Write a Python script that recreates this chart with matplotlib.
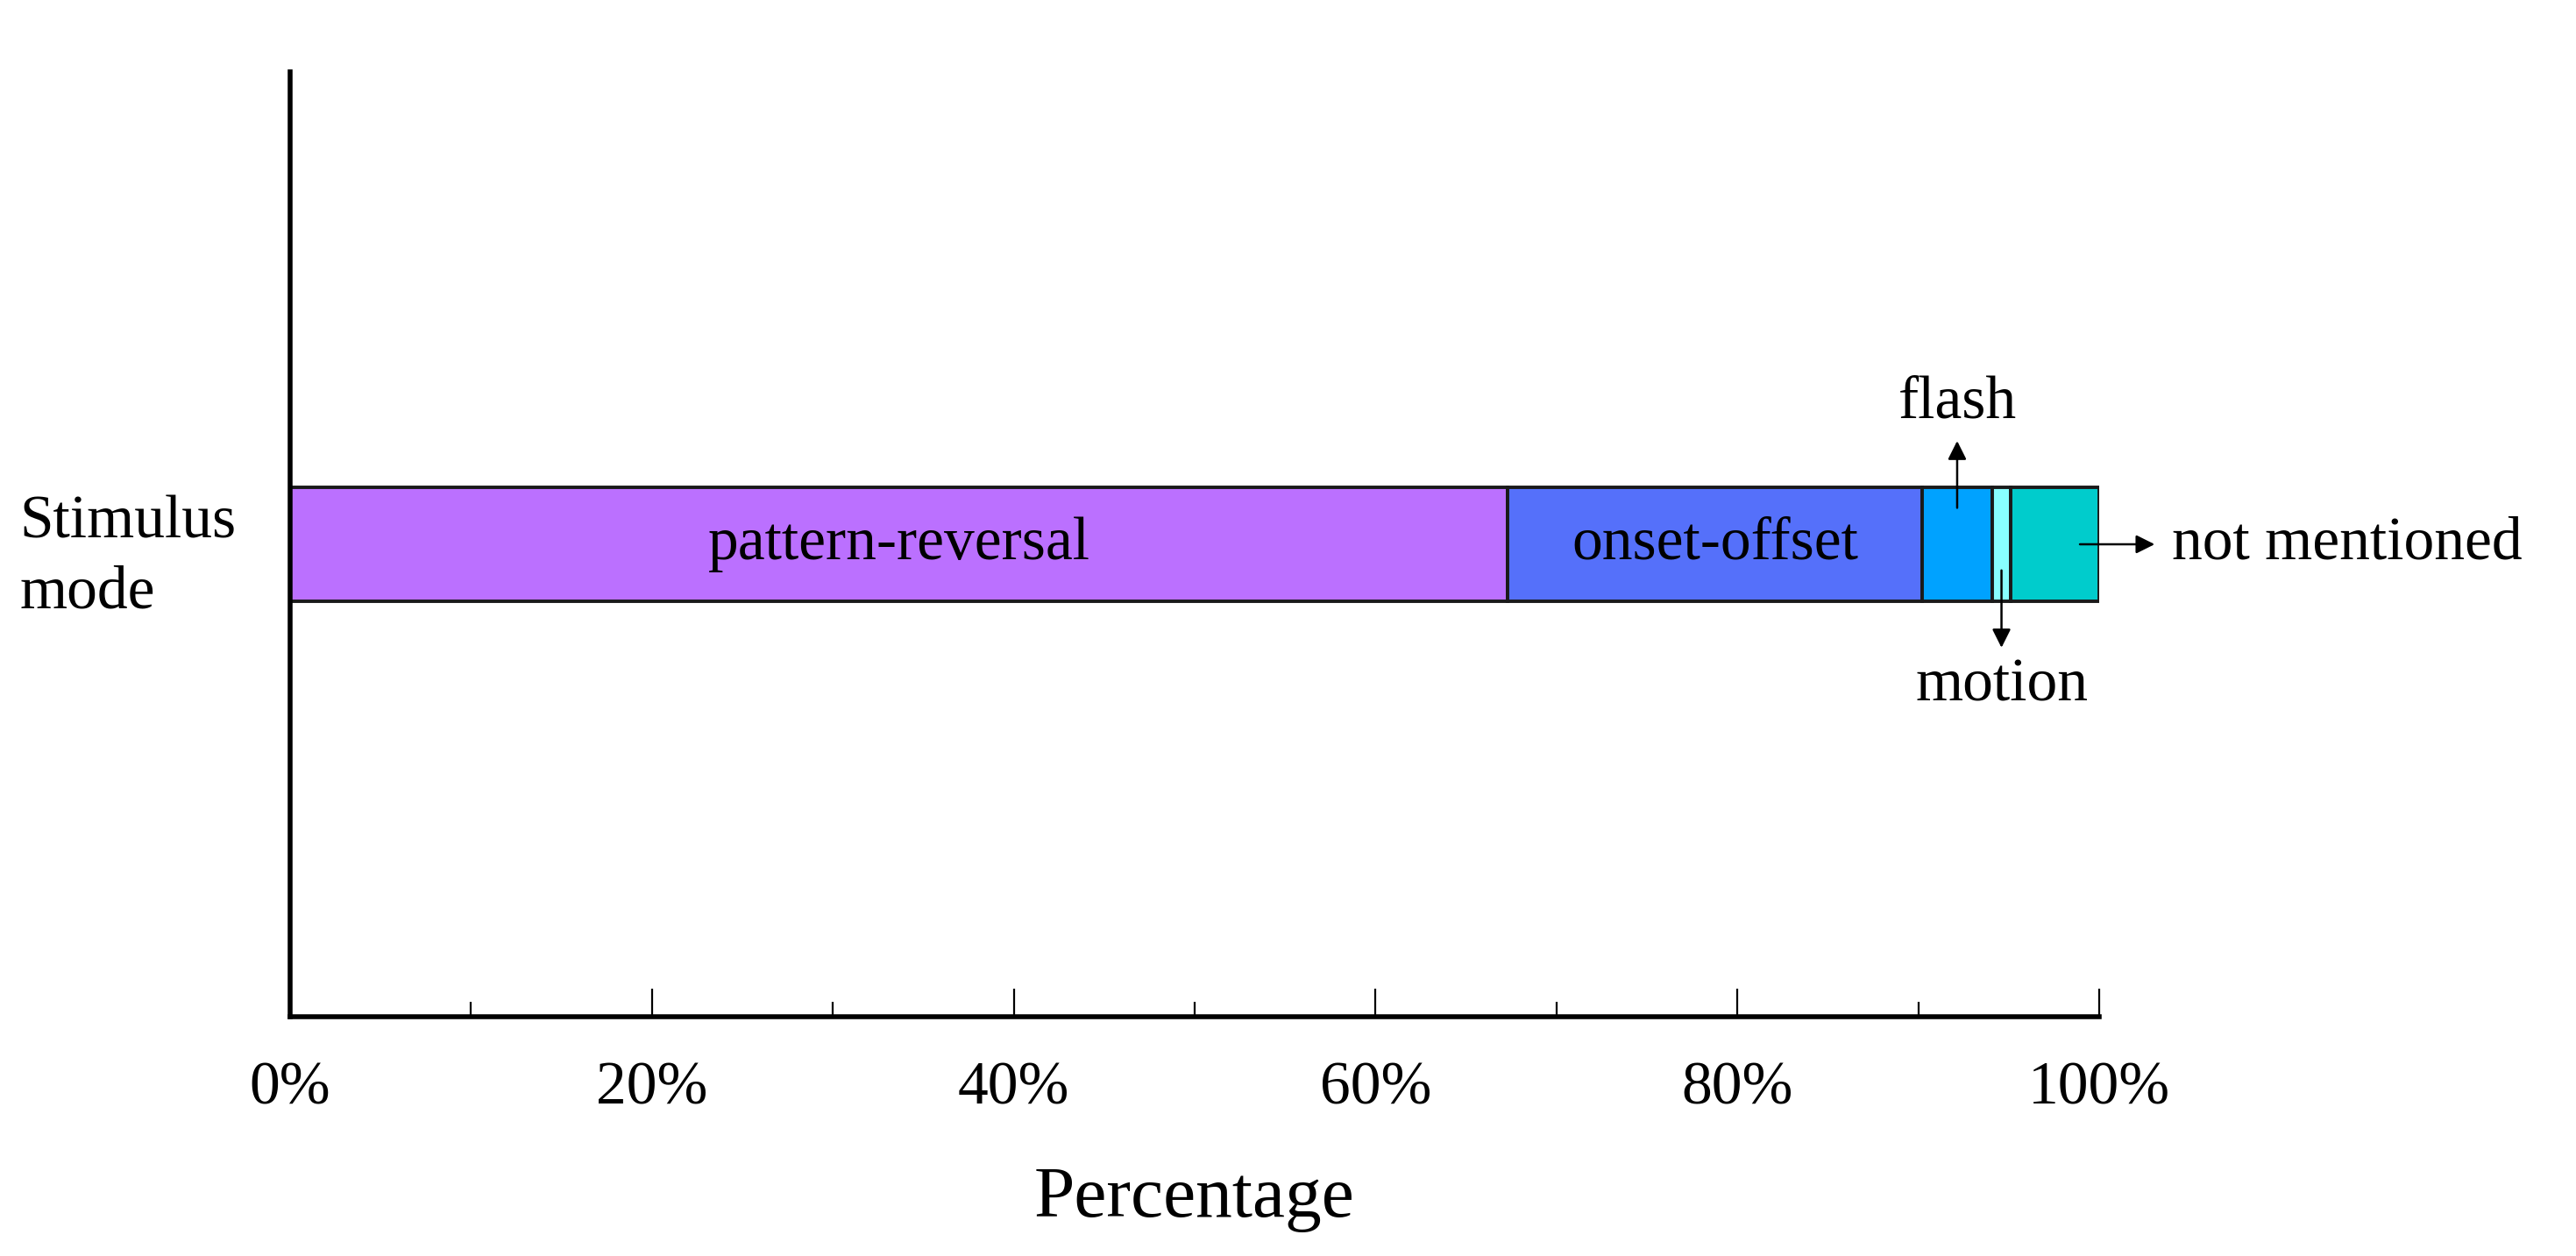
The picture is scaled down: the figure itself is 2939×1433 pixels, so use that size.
import numpy as np
import matplotlib
matplotlib.use('Agg')
import matplotlib.pyplot as plt
from matplotlib.ticker import MultipleLocator, PercentFormatter

# stimulus mode shares (%)
modes = ['pattern-reversal', 'onset-offset', 'flash', 'motion', 'not mentioned']
shares = [67.3, 22.9, 3.9, 1.0, 4.9]
colors = ['#BB70FF', '#5570FA', '#00A2FF', '#88FFFF', '#00CCCC']
category = 'Stimulus\nmode'

plt.rcParams['font.family'] = ['Liberation Serif', 'DejaVu Serif']

fig = plt.figure(figsize=(29.39, 14.33), dpi=100)
ax = fig.add_axes([0.1126, 0.1905, 0.7023, 0.7523])

left = 0
starts = []
for name, val, c in zip(modes, shares, colors):
    ax.barh(0, val, left=left, height=0.12, color=c, edgecolor='#1a1a1a', linewidth=2.8)
    starts.append(left)
    left += val
starts = np.array(starts)
mids = starts + np.array(shares) / 2

# labels inside the two big segments
ax.text(mids[0], 0, modes[0], ha='center', va='center', fontsize=50)
ax.text(mids[1], 0, modes[1], ha='center', va='center', fontsize=50)

# small segments get arrows
arr = dict(arrowstyle='-|>', color='black', lw=1.8, mutation_scale=32)
ax.annotate('', xy=(mids[2], 0.112), xytext=(mids[2], 0.036), arrowprops=arr)
ax.text(mids[2], 0.150, modes[2], ha='center', va='center', fontsize=50)
ax.annotate('', xy=(mids[3], -0.112), xytext=(mids[3], -0.025), arrowprops=arr)
ax.text(mids[3], -0.150, modes[3], ha='center', va='center', fontsize=50)
ax.annotate('', xy=(103.2, 0), xytext=(98.8, 0), arrowprops=arr, annotation_clip=False)
ax.text(104.0, 0, modes[4], ha='left', va='center', fontsize=50, clip_on=False)

ax.set_xlim(0, 100)
ax.set_ylim(-0.5, 0.5)
ax.set_yticks([0])
ax.set_yticklabels([category], fontsize=50, linespacing=1.35)
for lab in ax.get_yticklabels():
    lab.set_multialignment('left')
ax.tick_params(axis='y', length=0, pad=44)

ax.xaxis.set_major_locator(MultipleLocator(20))
ax.xaxis.set_minor_locator(MultipleLocator(10))
ax.xaxis.set_major_formatter(PercentFormatter(decimals=0))
ax.tick_params(axis='x', which='major', direction='in', length=23, width=1.6, labelsize=50, pad=37)
ax.tick_params(axis='x', which='minor', direction='in', length=12, width=1.6)
ax.set_xlabel('Percentage', fontsize=60, labelpad=40)

for s in ['top', 'right']:
    ax.spines[s].set_visible(False)
for s in ['left', 'bottom']:
    ax.spines[s].set_linewidth(4)

fig.savefig('out.png', dpi=100)
